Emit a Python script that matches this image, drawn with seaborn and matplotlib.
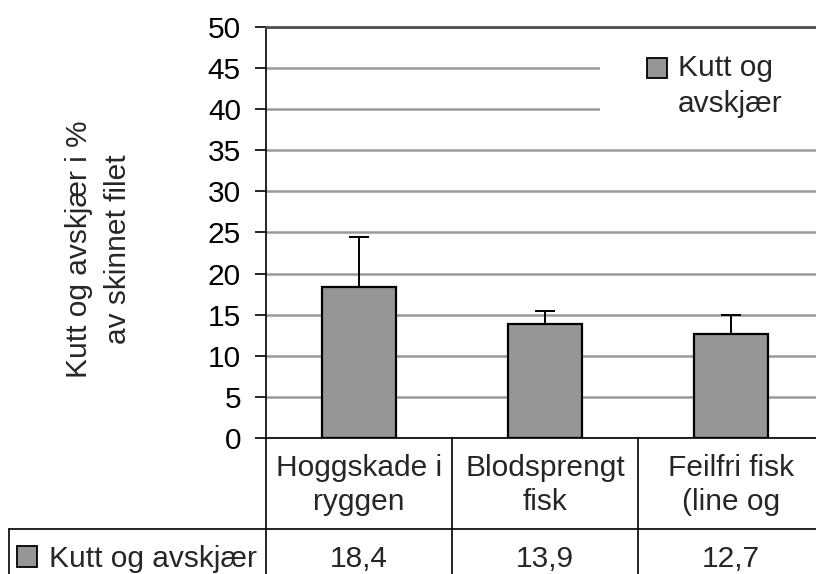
import matplotlib
matplotlib.use('Agg')
import matplotlib.pyplot as plt
from matplotlib.patches import Patch, Rectangle
from matplotlib.legend_handler import HandlerPatch
from matplotlib.transforms import blended_transform_factory
import seaborn as sns
import numpy as np

# data
categories = ['Hoggskade i\nryggen', 'Blodsprengt\nfisk', 'Feilfri fisk\n(line og']
values = [18.4, 13.9, 12.7]
err_upper = [6.1, 1.6, 2.3]
series_name = 'Kutt og avskjær'
legend_label = 'Kutt og\navskjær'
y_label = 'Kutt og avskjær i %\nav skinnet filet'
y_ticks = list(range(0, 51, 5))

sns.set_style('white')
plt.rcParams['font.family'] = ['Liberation Sans', 'DejaVu Sans']
FS = 21.5
BAR_COLOR = '#969696'

W, H = 816, 574
fig = plt.figure(figsize=(W / 100, H / 100), dpi=100)
ax = fig.add_axes([266 / W, 1 - 438 / H, (824 - 266) / W, (438 - 27) / H])

sns.barplot(x=categories, y=values, color=BAR_COLOR, saturation=1,
            edgecolor='black', linewidth=1.6, width=0.4, errorbar=None,
            ax=ax, zorder=3)
# only the upper half of the error bar is shown
ax.errorbar(np.arange(len(values)), values, yerr=[np.zeros(len(values)), err_upper],
            fmt='none', ecolor='black', elinewidth=1.4, capsize=7, capthick=1.4, zorder=4)

ax.set_xlim(-0.5, len(categories) - 0.5)
ax.set_ylim(0, 50)
ax.set_yticks(y_ticks)
ax.yaxis.grid(True, color='#9a9a9a', lw=1.8)
ax.xaxis.grid(False)
ax.set_axisbelow(True)
ax.tick_params(axis='y', left=True, direction='out', length=8, width=1.2,
               labelsize=FS, pad=10, colors='black')
ax.tick_params(axis='x', bottom=False, labelbottom=False)
ax.set_xlabel('')

for side in ['left', 'bottom']:
    ax.spines[side].set_color('black')
    ax.spines[side].set_linewidth(1.2)
ax.spines['top'].set_color('#505050')
ax.spines['top'].set_linewidth(2)
ax.spines['right'].set_visible(False)

ax.set_ylabel(y_label, fontsize=FS, linespacing=1.5, va='center')
ax.yaxis.set_label_coords(-0.30, 0.46)

# legend (white box hides the gridlines behind it, runs off the right edge)
def square_top(legend, orig_handle, xdescent, ydescent, width, height, fontsize):
    sq = 0.66 * fontsize
    return Rectangle((-xdescent + width - sq, -ydescent + 0.62 * fontsize), sq, sq)

key = Patch(facecolor=BAR_COLOR, edgecolor='black', linewidth=1.3)
leg = ax.legend(handles=[key], labels=[legend_label], loc='upper left',
                bbox_to_anchor=(600 / W, 1 - 36 / H, 0.35, 0), mode='expand',
                bbox_transform=fig.transFigure,
                borderaxespad=0, borderpad=0.6, frameon=True, fancybox=False,
                facecolor='white', edgecolor='none', framealpha=1,
                handlelength=1.64, handleheight=0.66, handletextpad=0.37,
                fontsize=FS, handler_map={Patch: HandlerPatch(patch_func=square_top)})
leg.get_texts()[0].set_linespacing(1.35)

# data table under the plot
trans = blended_transform_factory(ax.transData, fig.transFigure)
y0 = 1 - 438 / H
row_div = 1 - 529 / H
edges = np.arange(len(categories) + 1) - 0.5
for xb in edges:
    ax.plot([xb, xb], [y0, -0.05], transform=trans, color='black', lw=1.2, clip_on=False)
fig.add_artist(plt.Line2D([9 / W, 1.0], [row_div, row_div], color='black', lw=1.2))
fig.add_artist(plt.Line2D([9 / W, 9 / W], [row_div, -0.05], color='black', lw=1.2))

for i, cat in enumerate(categories):
    ax.text(i, 1 - 485 / H, cat, transform=trans, ha='center', va='center',
            fontsize=FS, linespacing=1.3, clip_on=False)
for i, v in enumerate(values):
    ax.text(i, 1 - 567 / H, f'{v:.1f}'.replace('.', ','), transform=trans,
            ha='center', va='baseline', fontsize=FS, clip_on=False)

key2 = Patch(facecolor=BAR_COLOR, edgecolor='black', linewidth=1.3)
fig.legend(handles=[key2], labels=[series_name], loc='center left',
           bbox_to_anchor=(17 / W, 1 - 559 / H), frameon=False, borderpad=0,
           borderaxespad=0, handlelength=0.66, handleheight=0.66,
           handletextpad=0.4, fontsize=FS)

fig.savefig('out.png', dpi=100)
